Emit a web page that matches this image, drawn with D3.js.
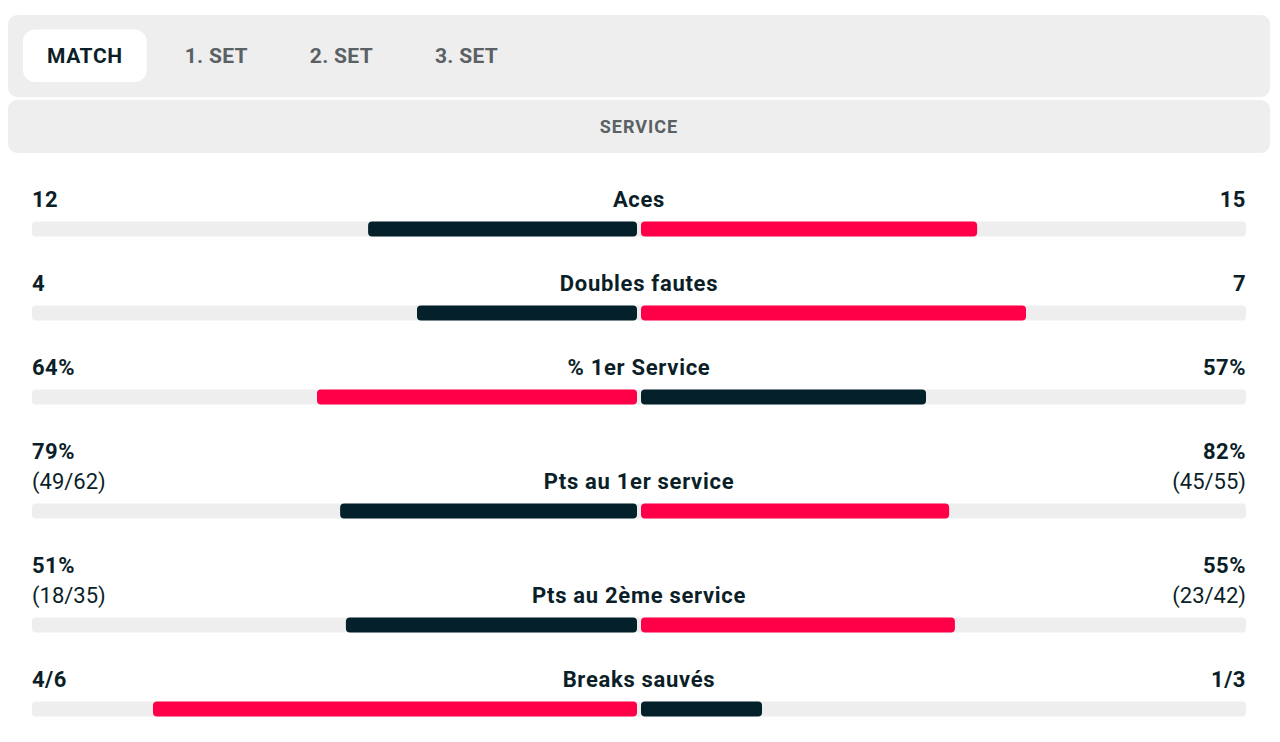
<!DOCTYPE html>
<html>
<head>
<meta charset="utf-8">
<script src="https://cdn.jsdelivr.net/npm/d3@7"></script>
<style>
  body { margin: 0; background: #ffffff; }
  svg { display: block; font-family: Roboto, "Noto Sans", sans-serif; }
</style>
</head>
<body>
<svg id="svg"></svg>
<script>
////////////////////////////////////////////////////////////////////////
// Data

let tabs = ["MATCH", "1. SET", "2. SET", "3. SET"];
let sectionTitle = "SERVICE";

let statNames  = ["Aces", "Doubles fautes", "% 1er Service",
                  "Pts au 1er service", "Pts au 2ème service", "Breaks sauvés"];
let leftText   = ["12", "4", "64%", "79%", "51%", "4/6"];
let leftSub    = [null, null, null, "(49/62)", "(18/35)", null];
let rightText  = ["15", "7", "57%", "82%", "55%", "1/3"];
let rightSub   = [null, null, null, "(45/55)", "(23/42)", null];
// values the bars are sized from
let leftValue  = [12, 4, 64, 79, 51, 4];
let rightValue = [15, 7, 57, 82, 55, 1];

////////////////////////////////////////////////////////////////////////
// Layout

let width = 1280, height = 742;
let dark = "#03202b", red = "#ff0048", grey = "#eeeeee", textCol = "#0c1f29";

let svg = d3.select("#svg").attr("width", width).attr("height", height);

// tab strip
svg.append("rect")
   .attr("x", 8).attr("y", 15).attr("width", 1262).attr("height", 82)
   .attr("rx", 9).attr("fill", grey);

let textX = 47;
tabs.forEach(function(t, i) {
  let g = svg.append("g");
  let pill = g.append("rect")
              .attr("x", textX - 24).attr("y", 29.5).attr("height", 52.5)
              .attr("rx", 12)
              .attr("fill", i == 0 ? "#ffffff" : "none");
  let txt = g.append("text")
             .attr("x", textX).attr("y", 63)
             .attr("font-size", 21).attr("font-weight", 700)
             .attr("letter-spacing", i == 0 ? 0.6 : 0.3)
             .attr("fill", i == 0 ? textCol : "#5a6165")
             .text(t);
  let tw = txt.node().getComputedTextLength();
  pill.attr("width", tw + 48);
  textX += tw + 62;
});

// section header
svg.append("rect")
   .attr("x", 8).attr("y", 100).attr("width", 1262).attr("height", 53)
   .attr("rx", 9).attr("fill", grey);
svg.append("text")
   .attr("x", 639).attr("y", 132.5)
   .attr("text-anchor", "middle")
   .attr("font-size", 18).attr("font-weight", 700)
   .attr("letter-spacing", 1)
   .attr("fill", "#5a6165")
   .text(sectionTitle);

// stat rows
let trackX1 = 32, trackX2 = 1246, mid = (trackX1 + trackX2) / 2;
let barH = 15, gapMid = 2;
let barScale = d3.scaleLinear().domain([0, 1]).range([0, mid - gapMid - trackX1]);

let y = 206.5;
statNames.forEach(function(name, i) {
  let g = svg.append("g");
  let hasSub = leftSub[i] !== null;

  g.append("text").attr("x", trackX1).attr("y", y)
   .attr("font-size", 22).attr("font-weight", 700)
   .attr("letter-spacing", 0.5).attr("fill", textCol)
   .text(leftText[i]);
  g.append("text").attr("x", trackX2).attr("y", y)
   .attr("text-anchor", "end")
   .attr("font-size", 22).attr("font-weight", 700)
   .attr("letter-spacing", 0.5).attr("fill", textCol)
   .text(rightText[i]);

  let labelY = y;
  if (hasSub) {
    labelY = y + 30;
    g.append("text").attr("x", trackX1).attr("y", labelY)
     .attr("font-size", 22).attr("font-weight", 400).attr("fill", textCol)
     .text(leftSub[i]);
    g.append("text").attr("x", trackX2).attr("y", labelY)
     .attr("text-anchor", "end")
     .attr("font-size", 22).attr("font-weight", 400).attr("fill", textCol)
     .text(rightSub[i]);
  }

  g.append("text").attr("x", mid).attr("y", labelY)
   .attr("text-anchor", "middle")
   .attr("font-size", 22).attr("font-weight", 700)
   .attr("letter-spacing", 0.7).attr("fill", textCol)
   .text(name);

  let barY = labelY + 15;
  g.append("rect")
   .attr("x", trackX1).attr("y", barY)
   .attr("width", trackX2 - trackX1).attr("height", barH)
   .attr("rx", 4).attr("fill", grey);

  let total = leftValue[i] + rightValue[i];
  let lw = barScale(leftValue[i] / total);
  let rw = barScale(rightValue[i] / total);
  let leftWins = leftValue[i] > rightValue[i];

  g.append("rect")
   .attr("x", mid - gapMid - lw).attr("y", barY)
   .attr("width", lw).attr("height", barH)
   .attr("rx", 4).attr("fill", leftWins ? red : dark);
  g.append("rect")
   .attr("x", mid + gapMid).attr("y", barY)
   .attr("width", rw).attr("height", barH)
   .attr("rx", 4).attr("fill", leftWins ? dark : red);

  y = barY + barH + 54;
});
</script>
</body>
</html>
